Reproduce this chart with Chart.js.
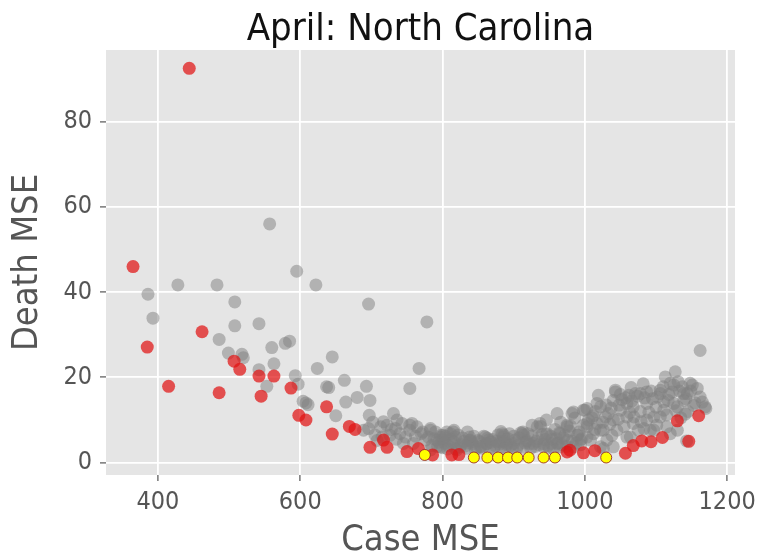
<!DOCTYPE html>
<html>
<head>
<meta charset="utf-8">
<script src="https://cdn.jsdelivr.net/npm/chart.js@4.4.1/dist/chart.umd.min.js"></script>
<style>
html,body{margin:0;padding:0;background:#fff;}
#wrap{width:759px;height:560px;position:relative;}
</style>
</head>
<body>
<div id="wrap"><canvas id="c" width="759" height="560"></canvas></div>
<script>
const titleText = "April: North Carolina";
const xLabel = "Case MSE";
const yLabel = "Death MSE";
const xTicks = [400, 600, 800, 1000, 1200];
const yTicks = [0, 20, 40, 60, 80];

const caseGrey = [
386,393,428,483,508,508,486,499,518,520,542,542,553,557,560,563,579,585,595,593,597,604,608,611,622,624,637,640,645,650,662,664,680,693,696,698,697,689,696,731,736,754,767,778,713,717,722,743,754,757,764,783,740,726,776,792,801,815,813,797,759,715,745,754,783,797,705,735,770,
780,785,790,795,800,804,808,812,818,822,826,830,834,838,842,846,850,854,858,862,866,870,874,878,882,886,890,894,898,902,906,910,914,918,922,926,930,934,938,942,946,950,954,958,962,966,970,974,978,982,986,990,994,998,
811,801,839,865,886,912,937,933,961,984,1003,1017,947,975,928,890,853,825,961,994,1012,1017,918,900,881,862,841,818,914,886,863,838,806,942,965,984,953,965,989,1003,982,998,975,816,835,882,913,926,946,
1019,1043,1062,1078,1087,1106,1113,1127,1125,1144,1151,1162,1162,1169,1139,1022,1033,1050,1068,1087,1097,1111,1125,1130,1115,1068,1045,1022,1031,1003,1040,1059,1064,1083,1097,1022,1040,1148,1120,1139,1106,1071,1043,1000,1040,1059,1111,1130,1106,1087,1069,1029,1003,1026,1059,1075,1092,1120,1008,1026,1010,1035,1052,1078,1095,1118,1133,1155,1145,1100,1082,1065,1050,1030,1012,1055,1090,1135,1143,1170,
783,788,793,798,803,807,816,820,828,832,836,844,848,852,856,860,868,872,876,880,884,888,892,896,900,904,908,916,920,924,932,936,940,944,948,952,956,960,964,968,972,976,980,988,992,996,
1005,1015,1025,1037,1048,1057,1066,1074,1084,1093,1102,1110,1117,1123,1131,1137,1142,1149,1153,1158,1165,1047,1063,1079,1101,1115,1128,1141,1014,1038,
702,708,728,734,748,762,772
];
const deathGrey = [
39.5,33.9,41.7,41.7,37.7,32.1,28.9,25.7,25.4,24.6,32.6,21.8,17.9,56.0,27.0,23.2,28.0,28.5,44.9,20.4,18.4,14.4,14.0,13.6,41.7,22.1,17.8,17.6,24.8,11.0,19.3,14.2,15.3,17.9,37.2,14.6,11.1,7.6,8.0,11.5,10.0,17.4,22.1,33.0,8.4,9.6,8.8,9.2,7.6,9.2,8.4,8.0,6.8,6.4,5.3,5.3,6.4,7.2,4.5,3.7,4.5,6.0,4.5,8.8,7.6,6.0,6.5,5.5,6.8,
6.0,4.0,7.2,4.8,3.5,6.2,4.0,5.5,3.3,6.5,4.2,5.0,3.4,6.0,4.4,3.0,5.2,3.8,6.2,4.4,3.2,5.4,4.0,6.5,3.6,5.0,4.2,6.8,3.4,5.3,4.1,7.0,3.6,5.2,4.4,6.3,3.8,5.6,8.5,4.4,6.6,3.6,5.5,7.8,4.6,9.5,5.8,3.8,7.4,5.0,10.5,6.5,4.2,8.8,
6.8,5.3,5.3,5.3,6.0,6.8,9.2,8.4,11.5,11.9,12.7,13.9,6.8,8.4,4.5,4.5,3.7,3.7,4.5,5.3,6.8,9.2,4.9,4.5,4.9,4.5,4.9,6.0,6.4,6.4,5.7,5.2,7.2,3.7,3.7,3.7,4.5,6.8,6.4,6.0,11.5,12.3,8.8,7.6,7.2,7.3,7.2,8.8,10.0,
15.8,16.6,15.8,16.2,16.6,16.2,20.1,21.3,18.2,16.2,18.2,26.3,15.4,13.1,14.6,13.1,11.5,12.3,13.1,13.9,10.7,12.3,13.9,7.6,8.4,9.2,7.6,7.6,5.3,9.2,10.0,10.7,6.0,8.0,7.6,3.7,3.7,18.6,18.6,16.2,17.0,16.2,17.0,12.3,14.6,13.9,14.2,13.1,10.7,10.0,10.7,10.7,8.4,7.6,6.0,7.6,7.6,6.8,5.3,3.3,10.5,9.0,14.8,12.0,15.0,16.0,16.8,14.0,12.0,13.0,18.5,17.6,16.0,13.5,11.0,8.5,11.8,10.5,5.1,12.7,
3.0,5.6,3.8,6.4,4.6,3.2,4.8,3.0,5.8,3.9,4.6,6.2,3.6,4.9,3.4,6.0,4.8,3.6,5.0,4.4,6.8,3.4,5.6,4.0,6.2,3.2,5.8,4.6,6.8,3.4,5.0,4.2,6.6,5.4,4.0,6.2,3.2,5.6,7.0,4.2,6.4,5.2,8.6,4.6,7.2,5.6,
10.0,12.0,9.5,12.8,13.5,15.2,14.5,15.6,15.2,16.8,15.4,17.8,14.6,16.6,19.0,17.8,15.0,16.8,13.4,17.4,14.2,10.2,11.8,9.6,8.8,11.2,12.2,11.4,7.8,6.4,
9.5,5.2,7.8,8.0,6.0,6.2,7.2
];

const caseRed = [444,365,385,462,415,486,507,515,542,563,545,587,598,608,637,645,669,677,698,717,722,750,766,786,813,823,975,979,998,1014,1057,1068,1080,1093,1109,1130,1146,1160];
const deathRed = [92.5,46.0,27.1,30.7,17.9,16.4,23.8,21.9,20.3,20.3,15.6,17.5,11.1,10.0,13.1,6.7,8.5,7.8,3.6,5.3,3.6,2.6,3.3,1.8,1.8,1.9,2.5,2.9,2.3,2.8,2.2,4.0,5.1,4.9,5.9,9.8,5.0,11.0];

const caseYellow = [775,844,863,878,892,905,921,942,958,1030];
const deathYellow = [1.8,1.2,1.2,1.2,1.2,1.2,1.2,1.2,1.2,1.2];

const toPts = (xs, ys) => xs.map((x, i) => ({x: x, y: ys[i]}));

const FONT = "'DejaVu Sans Condensed', 'DejaVu Sans', sans-serif";

const bgPlugin = {
  id: 'bg',
  beforeDraw(chart) {
    const {ctx, chartArea: a} = chart;
    ctx.save();
    ctx.fillStyle = '#E5E5E5';
    ctx.fillRect(a.left, a.top, a.right - a.left, a.bottom - a.top);
    ctx.restore();
  },
  afterDraw(chart) {
    const {ctx, chartArea: a} = chart;
    ctx.save();
    ctx.font = "38px " + FONT;
    ctx.fillStyle = '#111';
    ctx.textAlign = 'center';
    ctx.textBaseline = 'alphabetic';
    ctx.fillText(titleText, (a.left + a.right) / 2, 40);
    ctx.restore();
  }
};

new Chart(document.getElementById('c'), {
  type: 'scatter',
  data: {
    datasets: [
      {
        label: 'best',
        data: toPts(caseYellow, deathYellow),
        backgroundColor: '#FFFF00',
        borderColor: 'rgba(150,40,40,0.9)',
        borderWidth: 1,
        pointRadius: 5.5,
        order: 0
      },
      {
        label: 'red',
        data: toPts(caseRed, deathRed),
        backgroundColor: 'rgba(225,20,20,0.72)',
        borderWidth: 0,
        pointRadius: 6.5,
        order: 1
      },
      {
        label: 'grey',
        data: toPts(caseGrey, deathGrey),
        backgroundColor: 'rgba(128,128,128,0.5)',
        borderWidth: 0,
        pointRadius: 6.5,
        order: 2
      }
    ]
  },
  options: {
    responsive: false,
    animation: false,
    devicePixelRatio: 1,
    layout: { padding: { top: 50, right: 24, left: 0, bottom: 0 } },
    plugins: {
      legend: { display: false },
      tooltip: { enabled: false },
      title: { display: false }
    },
    scales: {
      x: {
        type: 'linear',
        min: 327, max: 1211,
        afterBuildTicks: s => { s.ticks = xTicks.map(v => ({value: v})); },
        afterFit: s => { s.height = 85; s.paddingRight = 0; s.paddingLeft = 0; },
        border: { display: false },
        grid: { color: '#FFFFFF', lineWidth: 1.8, tickColor: '#555', tickLength: 6, tickWidth: 1.2 },
        ticks: { color: '#555', font: { family: FONT, size: 25 }, padding: 6, maxRotation: 0, callback: v => String(v) },
        title: { display: true, text: xLabel, color: '#555', font: { family: FONT, size: 36, lineHeight: 1.1 }, padding: { top: 0, bottom: 0 } }
      },
      y: {
        type: 'linear',
        min: -2.9, max: 96.8,
        afterBuildTicks: s => { s.ticks = yTicks.map(v => ({value: v})); },
        afterFit: s => { s.width = 106; },
        border: { display: false },
        grid: { color: '#FFFFFF', lineWidth: 1.8, tickColor: '#555', tickLength: 6, tickWidth: 1.2 },
        ticks: { color: '#555', font: { family: FONT, size: 25 }, padding: 8, callback: v => String(v) },
        title: { display: true, text: yLabel, color: '#555', font: { family: FONT, size: 36, lineHeight: 1.1 }, padding: { top: 8, bottom: 0 } }
      }
    }
  },
  plugins: [bgPlugin]
});
</script>
</body>
</html>
